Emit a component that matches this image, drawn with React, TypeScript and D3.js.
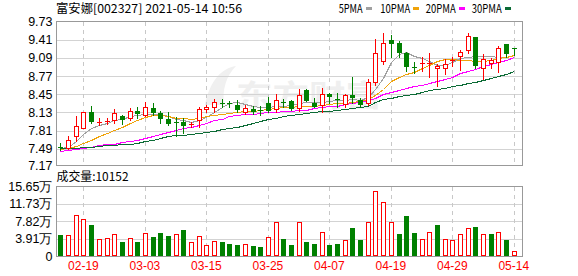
import React from "react";
import * as d3 from "d3";

const dates = [
  "02-09","02-10","02-18","02-19","02-22","02-23","02-24","02-25","02-26","03-01",
  "03-02","03-03","03-04","03-05","03-08","03-09","03-10","03-11","03-12","03-15",
  "03-16","03-17","03-18","03-19","03-22","03-23","03-24","03-25","03-26","03-29",
  "03-30","03-31","04-01","04-02","04-06","04-07","04-08","04-09","04-12","04-13",
  "04-14","04-15","04-16","04-19","04-20","04-21","04-22","04-23","04-26","04-27",
  "04-28","04-29","04-30","05-06","05-07","05-10","05-11","05-12","05-13","05-14",
];

const openP = [
  7.53,7.50,7.72,7.85,8.13,7.96,7.96,8.00,8.06,8.03,
  8.16,8.09,8.20,8.12,8.02,7.96,7.97,7.91,7.99,8.19,
  8.23,8.29,8.29,8.26,8.14,8.19,8.18,8.29,8.19,8.31,
  8.33,8.20,8.53,8.30,8.26,8.45,8.37,8.28,8.44,8.35,
  8.30,8.67,9.03,9.41,9.35,9.18,8.93,8.99,8.99,8.91,
  8.92,9.04,9.12,9.22,9.46,8.91,9.00,9.01,9.33,9.26,
];
const closeP = [
  7.52,7.645,7.89,8.13,7.98,7.97,7.98,8.12,8.02,8.16,
  8.12,8.22,8.14,8.03,7.94,7.95,7.91,7.92,8.19,8.23,
  8.32,8.28,8.28,8.19,8.20,8.16,8.17,8.17,8.35,8.30,
  8.20,8.43,8.35,8.24,8.45,8.42,8.36,8.43,8.40,8.28,
  8.66,9.17,9.35,9.36,9.20,8.95,8.92,9.00,9.00,8.94,
  8.98,9.05,9.19,9.47,8.96,9.07,9.05,9.26,9.18,9.25,
];
const highP = [
  7.59,7.72,8.06,8.14,8.24,8.03,8.04,8.19,8.09,8.21,
  8.22,8.32,8.29,8.16,8.13,8.05,8.03,7.97,8.22,8.26,
  8.36,8.36,8.33,8.35,8.26,8.24,8.24,8.41,8.45,8.36,
  8.35,8.55,8.54,8.38,8.56,8.47,8.47,8.45,8.76,8.39,
  8.71,9.42,9.52,9.49,9.38,9.20,9.02,9.11,9.17,8.98,
  9.07,9.10,9.23,9.53,9.46,9.16,9.08,9.30,9.33,9.26,
];
const lowP = [
  7.47,7.49,7.62,7.85,7.95,7.91,7.92,7.94,7.92,8.00,
  8.03,8.06,8.09,7.95,7.91,7.72,7.77,7.88,7.88,8.14,
  8.14,8.22,8.22,8.14,8.10,8.10,8.09,8.14,8.14,8.23,
  8.17,8.16,8.33,8.23,8.14,8.29,8.22,8.22,8.29,8.23,
  8.26,8.61,8.99,9.11,9.11,8.86,8.83,8.86,8.76,8.60,
  8.80,8.94,8.88,9.18,8.92,8.72,8.91,8.85,9.11,9.14,
];

const ma5 = [
  7.51,7.53,7.62,7.75,7.86,7.91,7.94,7.99,8.02,8.06,
  8.09,8.10,8.11,8.10,8.07,8.02,7.99,7.97,8.00,8.05,
  8.14,8.23,8.30,8.31,8.28,8.24,8.23,8.22,8.24,8.25,
  8.26,8.30,8.31,8.31,8.32,8.33,8.34,8.35,8.36,8.35,
  8.40,8.54,8.74,9.02,9.16,9.19,9.13,9.09,9.03,8.97,
  8.97,9.02,9.08,9.11,9.13,9.13,9.12,9.11,9.11,9.14,
];
const ma10 = [
  7.49,7.50,7.54,7.59,7.65,7.72,7.77,7.82,7.88,7.94,
  8.00,8.05,8.08,8.08,8.06,8.04,8.03,8.02,8.03,8.07,
  8.09,8.11,8.12,8.14,8.15,8.16,8.17,8.19,8.20,8.22,
  8.23,8.24,8.24,8.24,8.26,8.28,8.29,8.30,8.32,8.33,
  8.36,8.44,8.55,8.68,8.75,8.81,8.85,8.91,8.97,9.04,
  9.07,9.07,9.05,9.05,9.04,9.04,9.06,9.08,9.10,9.14,
];
const ma20 = [
  7.46,7.47,7.49,7.50,7.53,7.55,7.57,7.58,7.61,7.63,
  7.65,7.68,7.72,7.75,7.79,7.82,7.85,7.87,7.91,7.94,
  7.99,8.02,8.06,8.09,8.11,8.11,8.12,8.13,8.14,8.15,
  8.16,8.17,8.18,8.20,8.22,8.235,8.25,8.27,8.29,8.31,
  8.34,8.39,8.45,8.49,8.525,8.56,8.59,8.61,8.65,8.68,
  8.72,8.75,8.815,8.86,8.89,8.95,8.98,9.02,9.05,9.10,
];
const ma30 = [
  7.50,7.50,7.51,7.52,7.53,7.54,7.55,7.56,7.57,7.58,
  7.60,7.62,7.65,7.68,7.71,7.73,7.74,7.75,7.77,7.79,
  7.81,7.84,7.86,7.88,7.91,7.94,7.98,8.015,8.04,8.07,
  8.09,8.11,8.12,8.13,8.15,8.155,8.17,8.19,8.20,8.22,
  8.25,8.31,8.36,8.39,8.42,8.44,8.46,8.49,8.52,8.54,
  8.56,8.59,8.61,8.64,8.67,8.70,8.73,8.77,8.81,8.86,
];

const volume = [
  47300,46600,91600,82600,69100,37600,39800,48900,31500,39800,
  31500,51100,42800,51800,45000,48900,58500,31500,44300,24100,
  33100,31500,27000,24800,26300,22500,20300,42100,76600,38300,
  24800,76600,31500,27000,53300,24800,27000,36000,63000,36000,
  76600,145700,120900,76600,49500,90100,51800,37600,53300,69800,
  37600,36000,48900,62400,65300,48900,48900,53300,36000,10152,
];
const volUp = [
  0,1,1,1,0,1,1,1,0,1,
  0,1,0,0,0,1,0,1,1,1,
  1,0,0,0,1,0,0,1,1,0,
  0,1,0,0,1,0,0,1,0,0,
  1,1,1,1,0,0,0,1,1,0,
  1,1,1,1,0,1,0,1,0,1,
];

const priceTicks = [9.73, 9.41, 9.09, 8.77, 8.45, 8.13, 7.81, 7.49, 7.17];
const volTicks = [0, 39100, 78200, 117300, 156500];
const volTickLabels = ["0", "3.91万", "7.82万", "11.73万", "15.65万"];
const xTickDates = ["02-19", "03-03", "03-15", "03-25", "04-07", "04-19", "04-29", "05-14"];

const title = "富安娜[002327] 2021-05-14 10:56";
const volTitle = "成交量:10152";
const legendNames = ["5PMA", "10PMA", "20PMA", "30PMA"];
const legendColors = ["#a0a0a0", "#f0a30a", "#ff00ff", "#0b6b35"];

const W = 578, H = 276;
const L = 56, R = 522;
const pTop = 21.5, pBot = 165.5;
const vTop = 186.5, vBot = 256;

const RED = "#ff0000";
const GREEN = "#008000";
const CJK = "'Noto Sans CJK SC', 'Liberation Sans', sans-serif";
const ARIAL = "'Liberation Sans', Arial, sans-serif";

export default function App() {
  const x = d3.scalePoint<string>().domain(dates).range([60.4, 513.8]);
  const yP = d3.scaleLinear().domain([7.49, 9.73]).range([148.8, 21.5]);
  const yV = d3.scaleLinear().domain([0, 156500]).range([vBot, vTop]);

  const cx = (i: number) => Math.round(x(dates[i]) as number);

  const maLine = (arr: number[]) =>
    d3.line<number>()
      .x((_, i) => Math.round(x(dates[i]) as number) + 0.5)
      .y((v) => Math.round(yP(v)) + 0.5)(arr) || "";

  const mas = [ma5, ma10, ma20, ma30];

  return (
    <svg width={W} height={H} style={{ position: "fixed", left: 0, top: 0, background: "#fff" }}>
      <rect x={0} y={0} width={W} height={H} fill="#fff" />
      {/* watermark */}
      <text x={236} y={106} fontFamily={CJK} fontSize={30} fontWeight={700} fill="#efefef"
        textLength={146} lengthAdjust="spacingAndGlyphs">东方财富</text>
      <path d="M205,105 C210,80 222,68 236,66 C226,76 222,90 224,105 Z" fill="#f0f0f0" />

      {/* grids */}
      <g shapeRendering="crispEdges">
        {priceTicks.slice(1, -1).map((t) => (
          <line key={"pg" + t} x1={L} x2={R} y1={Math.round(yP(t)) + 0.5} y2={Math.round(yP(t)) + 0.5} stroke="#d3d3d3" />
        ))}
        {xTickDates.map((d) => (
          <line key={"pv" + d} x1={Math.round(x(d) as number) + 0.5} x2={Math.round(x(d) as number) + 0.5}
            y1={pTop} y2={pBot} stroke="#c8c8c8" strokeDasharray="4,4" />
        ))}
        {volTicks.slice(1, -1).map((t) => (
          <line key={"vg" + t} x1={L} x2={R} y1={Math.round(yV(t)) + 0.5} y2={Math.round(yV(t)) + 0.5} stroke="#d3d3d3" />
        ))}
        {xTickDates.map((d) => (
          <line key={"vv" + d} x1={Math.round(x(d) as number) + 0.5} x2={Math.round(x(d) as number) + 0.5}
            y1={vTop} y2={vBot} stroke="#c8c8c8" strokeDasharray="4,4" />
        ))}
      </g>

      {/* MA lines */}
      <g fill="none" strokeWidth={1} shapeRendering="crispEdges">
        {mas.map((m, k) => (
          <path key={"ma" + k} d={maLine(m)} stroke={legendColors[k]} />
        ))}
      </g>

      {/* candles */}
      <g shapeRendering="crispEdges">
        {dates.map((d, i) => {
          const c = cx(i);
          const o = yP(openP[i]);
          const cl = yP(closeP[i]);
          const up = closeP[i] >= openP[i];
          const color = up ? RED : GREEN;
          const top = Math.round(Math.min(o, cl));
          const bot = Math.round(Math.max(o, cl));
          const hgt = bot - top;
          return (
            <g key={"c" + d}>
              <line x1={c + 0.5} x2={c + 0.5} y1={Math.round(yP(highP[i]))} y2={Math.round(yP(lowP[i])) + 1} stroke={color} />
              {hgt < 2 ? (
                <line x1={c - 2} x2={c + 3} y1={top + 0.5} y2={top + 0.5} stroke={color} />
              ) : up ? (
                <rect x={c - 2 + 0.5} y={top + 0.5} width={4} height={hgt} fill="#fff" stroke={RED} />
              ) : (
                <rect x={c - 2} y={top} width={5} height={hgt + 1} fill={GREEN} />
              )}
            </g>
          );
        })}
      </g>

      {/* volume bars */}
      <g shapeRendering="crispEdges">
        {dates.map((d, i) => {
          const c = cx(i);
          const t = Math.round(yV(volume[i]));
          return volUp[i] ? (
            <rect key={"v" + d} x={c - 2 + 0.5} y={t + 0.5} width={4} height={vBot - t - 1} fill="#fff" stroke={RED} />
          ) : (
            <rect key={"v" + d} x={c - 2} y={t} width={5} height={vBot - t} fill={GREEN} />
          );
        })}
      </g>

      {/* borders */}
      <g fill="none" stroke="#999" shapeRendering="crispEdges">
        <rect x={L + 0.5} y={pTop} width={R - L} height={pBot - pTop} />
        <rect x={L + 0.5} y={vTop} width={R - L} height={vBot - vTop} />
      </g>

      {/* axis labels */}
      <g fontFamily={ARIAL} fontSize={12.5} textAnchor="end" fill="#000">
        {priceTicks.map((t) => (
          <text key={"pl" + t} x={52.5} y={Math.min(yP(t), pBot - 0.5)} dy="0.36em">{t.toFixed(2)}</text>
        ))}
      </g>
      <g fontFamily={ARIAL} fontSize={12.5} textAnchor="end" fill="#000">
        {volTicks.map((t, k) => (
          <text key={"vl" + t} x={52.5} y={yV(t)} dy="0.36em">{volTickLabels[k]}</text>
        ))}
      </g>
      <g fontFamily={ARIAL} fontSize={12} textAnchor="middle" fill={RED}>
        {xTickDates.map((d) => (
          <text key={"xl" + d} x={x(d) as number} y={270}>{d}</text>
        ))}
      </g>

      {/* title and legend */}
      <text x={56} y={13} fontFamily={CJK} fontSize={12} fill="#000" textLength={186} lengthAdjust="spacingAndGlyphs">{title}</text>
      <text x={56.5} y={181} fontFamily={CJK} fontSize={12} fill="#000" textLength={72} lengthAdjust="spacingAndGlyphs">{volTitle}</text>
      {legendNames.map((n, k) => {
        const starts = [338.7, 380.3, 425.7, 471.7];
        const w = n.length * 6;
        return (
          <g key={"lg" + n}>
            <text x={starts[k]} y={13} fontFamily={CJK} fontSize={12} fill="#000" textLength={w} lengthAdjust="spacingAndGlyphs">{n}</text>
            <rect x={starts[k] + w + 3} y={7} width={6} height={3} fill={legendColors[k]} shapeRendering="crispEdges" />
          </g>
        );
      })}
    </svg>
  );
}
